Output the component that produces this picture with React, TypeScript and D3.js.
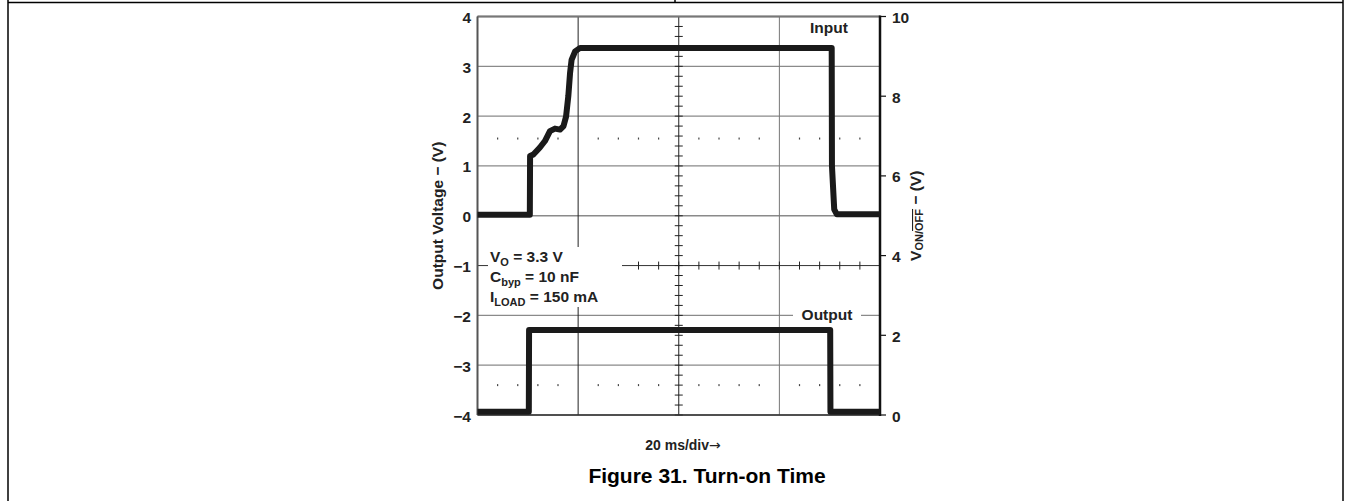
import React from "react";
import * as d3 from "d3";

// time axis, ms (20 ms/div, 4 divisions on screen)
const timeDomain = [0, 80];
const leftTicks = [4, 3, 2, 1, 0, -1, -2, -3, -4];
const rightTicks = [10, 8, 6, 4, 2, 0];

// upper trace, read on the left axis (V)
const outTime = [0, 10.4, 10.45, 11.1, 12.4, 13.4, 14.4, 15.4, 16.4, 17.1, 17.6, 18.05, 18.4, 18.7, 19.4, 20.4, 70.4, 70.45, 70.9, 71.4, 80];
const outVolt = [0.02, 0.02, 1.2, 1.23, 1.37, 1.5, 1.7, 1.75, 1.73, 1.8, 1.99, 2.4, 2.87, 3.13, 3.3, 3.37, 3.37, 1.0, 0.13, 0.03, 0.03];

// lower trace, read on the right axis (V)
const enTime = [0, 10.2, 10.25, 70.1, 70.15, 80];
const enVolt = [0.08, 0.08, 2.13, 2.13, 0.08, 0.08];

// rows of dots on the graticule (left-axis units)
const dotRows = [1.55, -3.4];

const FONT = "'Liberation Sans', Arial, sans-serif";
const FS = 15.5;
const SUB = 11;

const App = () => {
  const left = 477.5, right = 880, top = 16.5, bottom = 415;
  const x = d3.scaleLinear().domain(timeDomain).range([left, right]);
  const yL = d3.scaleLinear().domain([-4, 4]).range([bottom, top]);
  const yR = d3.scaleLinear().domain([0, 10]).range([bottom, top]);

  const outLine = d3.line<number>().x((d, i) => x(outTime[i])).y(d => yL(d));
  const enLine = d3.line<number>().x((d, i) => x(enTime[i])).y(d => yR(d));

  const divs = d3.range(timeDomain[0], timeDomain[1] + 0.1, 20);
  const dotXs = d3.range(4, 80, 4).filter(t => t % 20 !== 0);
  const vTicks = d3.range(-4, 4.001, 0.2);
  const hTicks = d3.range(0, 80.1, 4);

  return (
    <svg width={1351} height={501} style={{ position: "absolute", left: 0, top: 0 }} fontFamily={FONT}>
      {/* page frame */}
      <line x1={8} y1={2.5} x2={1343} y2={2.5} stroke="#000" strokeWidth={1.5} />
      <line x1={8} y1={0} x2={8} y2={501} stroke="#000" strokeWidth={1.5} />
      <line x1={1343} y1={0} x2={1343} y2={501} stroke="#000" strokeWidth={1.5} />
      <line x1={675} y1={0} x2={675} y2={2.5} stroke="#000" strokeWidth={1.5} />

      {/* horizontal grid */}
      {leftTicks.map(v => (
        <line key={"h" + v} x1={left} x2={right} y1={yL(v)} y2={yL(v)}
          stroke={v === -1 ? "#333" : "#8a8a8a"} strokeWidth={v === -1 ? 1 : 1.3} />
      ))}
      {/* vertical grid */}
      {divs.map(t => (
        <line key={"v" + t} x1={x(t)} x2={x(t)} y1={top} y2={bottom}
          stroke={t === 40 || t === 20 ? "#222" : "#777"} strokeWidth={1} />
      ))}
      {/* minor ticks on the centre lines */}
      {vTicks.map(v => (
        <line key={"vt" + v} x1={x(40) - 4} x2={x(40) + 4} y1={yL(v)} y2={yL(v)} stroke="#222" strokeWidth={1} />
      ))}
      {hTicks.map(t => (
        <line key={"ht" + t} x1={x(t)} x2={x(t)} y1={yL(-1) - 4} y2={yL(-1) + 4} stroke="#222" strokeWidth={1} />
      ))}
      {dotRows.map(r => dotXs.map(t => (
        <rect key={"d" + r + t} x={x(t) - 0.6} y={yL(r) - 1} width={1.2} height={2} fill="#444" />
      )))}

      {/* borders */}
      <line x1={left} x2={right} y1={top} y2={top} stroke="#777" strokeWidth={2} />
      <line x1={left} x2={right} y1={bottom} y2={bottom} stroke="#333" strokeWidth={1.5} />
      <line x1={left} x2={left} y1={top} y2={bottom} stroke="#555" strokeWidth={2} />
      <line x1={right} x2={right} y1={top - 1} y2={bottom + 1} stroke="#111" strokeWidth={2.5} />
      {rightTicks.map(v => (
        <line key={"rt" + v} x1={right} x2={right + 6} y1={yR(v)} y2={yR(v)} stroke="#111" strokeWidth={1.2} />
      ))}

      {/* tick labels */}
      <g fontSize={FS} fontWeight="bold" fill="#222">
        {leftTicks.map(v => (
          <text key={"lt" + v} x={471} y={yL(v) + 1} textAnchor="end" dominantBaseline="central">
            {v < 0 ? "\u2212" + Math.abs(v) : v}
          </text>
        ))}
        {rightTicks.map(v => (
          <text key={"rl" + v} x={892} y={yR(v) + 1} dominantBaseline="central">{v}</text>
        ))}
      </g>

      {/* axis titles */}
      <text transform={`translate(437,${yL(0)}) rotate(-90)`} textAnchor="middle" dominantBaseline="central"
        fontSize={FS} fontWeight="bold" fill="#222">Output Voltage {"\u2212"} (V)</text>
      <text transform={`translate(915,${yL(0)}) rotate(-90)`} textAnchor="middle" dominantBaseline="central"
        fontSize={FS} fontWeight="bold" fill="#222">
        V<tspan fontSize={SUB} dy={4}>ON/</tspan><tspan fontSize={SUB} textDecoration="overline" style={{ textDecoration: "overline" }}>OFF</tspan>
        <tspan dy={-4}> {"\u2212"} (V)</tspan>
      </text>

      {/* annotation block */}
      <rect x={488} y={247} width={134} height={60} fill="#fff" />
      <g fontSize={FS} fontWeight="bold" fill="#222">
        <text x={490} y={262}>V<tspan fontSize={SUB} dy={4}>O</tspan><tspan dy={-4}> = 3.3 V</tspan></text>
        <text x={490} y={282}>C<tspan fontSize={SUB} dy={4}>byp</tspan><tspan dy={-4}> = 10 nF</tspan></text>
        <text x={490} y={301.5}>I<tspan fontSize={SUB} dy={4}>LOAD</tspan><tspan dy={-4}> = 150 mA</tspan></text>
      </g>

      {/* trace labels */}
      <rect x={793} y={305} width={68} height={18} fill="#fff" />
      <text x={827} y={yL(-2) - 1} textAnchor="middle" dominantBaseline="central" fontSize={FS} fontWeight="bold" fill="#222">Output</text>
      <text x={829} y={27} textAnchor="middle" dominantBaseline="central" fontSize={FS} fontWeight="bold" fill="#222">Input</text>

      {/* traces */}
      <path d={outLine(outVolt) ?? ""} fill="none" stroke="#1a1a1a" strokeWidth={6} strokeLinejoin="round" />
      <path d={enLine(enVolt) ?? ""} fill="none" stroke="#1a1a1a" strokeWidth={6} strokeLinejoin="round" />

      {/* footer */}
      <text x={683} y={445} textAnchor="middle" dominantBaseline="central" fontSize={14} fontWeight="bold" fill="#222">
        20 ms/div<tspan fontFamily="'DejaVu Sans'" fontWeight="normal" fontSize={14}>{"\u2192"}</tspan>
      </text>
      <text x={707} y={475} textAnchor="middle" dominantBaseline="central" fontSize={21} fontWeight="bold" fill="#000">Figure 31. Turn-on Time</text>
    </svg>
  );
};

export default App;
